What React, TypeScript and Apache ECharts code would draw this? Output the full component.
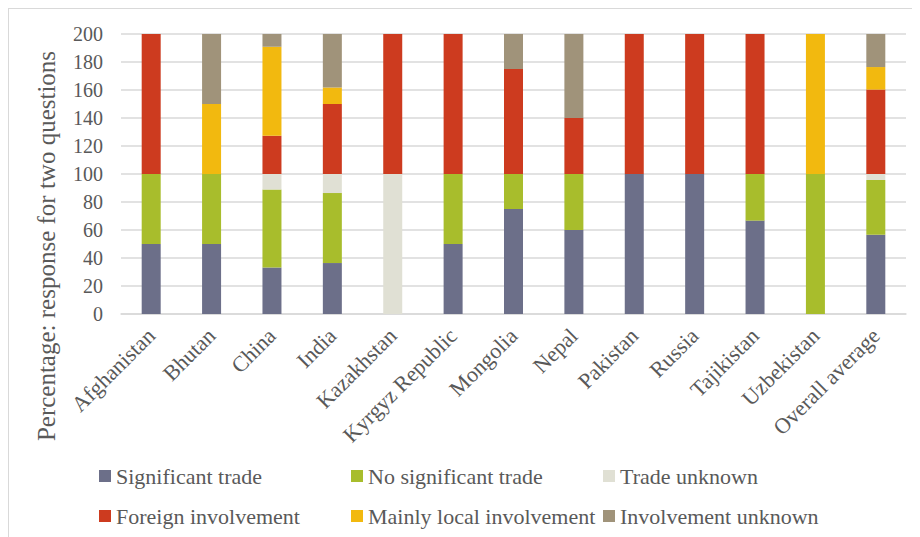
import React, { useEffect, useRef } from "react";
import * as echarts from "echarts";

const categories = [
  "Afghanistan",
  "Bhutan",
  "China",
  "India",
  "Kazakhstan",
  "Kyrgyz Republic",
  "Mongolia",
  "Nepal",
  "Pakistan",
  "Russia",
  "Tajikistan",
  "Uzbekistan",
  "Overall average",
];
const yTicks = { min: 0, max: 200, interval: 20 };

const significantTrade = [50, 50, 33.3, 36.4, 0, 50, 75, 60, 100, 100, 66.7, 0, 56.6];
const noSignificantTrade = [50, 50, 55.6, 50, 0, 50, 25, 40, 0, 0, 33.3, 100, 39.1];
const tradeUnknown = [0, 0, 11.1, 13.6, 100, 0, 0, 0, 0, 0, 0, 0, 4.3];
const foreignInvolvement = [100, 0, 27.3, 50, 100, 100, 75, 40, 100, 100, 100, 0, 60.3];
const mainlyLocalInvolvement = [0, 50, 63.6, 11.8, 0, 0, 0, 0, 0, 0, 0, 100, 16.1];
const involvementUnknown = [0, 50, 9.1, 38.2, 0, 0, 25, 60, 0, 0, 0, 0, 23.6];

const seriesNames = [
  "Significant trade",
  "No significant trade",
  "Trade unknown",
  "Foreign involvement",
  "Mainly local involvement",
  "Involvement unknown",
];
const seriesData = [
  significantTrade,
  noSignificantTrade,
  tradeUnknown,
  foreignInvolvement,
  mainlyLocalInvolvement,
  involvementUnknown,
];
const colors = ["#6c6f89", "#a8bd2c", "#e0e0d4", "#cd3b1f", "#f2b90f", "#a0937a"];

const FONT = "Liberation Serif";
const TEXT = "#595959";

export default function App() {
  const ref = useRef<HTMLDivElement>(null);
  useEffect(() => {
    if (!ref.current) return;
    const chart = echarts.init(ref.current, undefined, { renderer: "svg" });
    const legendCols = [90, 342, 594];
    const legendRows = [456, 496];
    const legends = seriesNames.map((name, i) => ({
      show: true,
      data: [name],
      left: legendCols[i % 3],
      top: legendRows[Math.floor(i / 3)],
      itemWidth: 12,
      itemHeight: 12,
      icon: "rect",
      padding: 0,
      textStyle: { fontFamily: FONT, fontSize: 22, color: TEXT },
      selectedMode: false,
    }));
    chart.setOption({
      animation: false,
      textStyle: { fontFamily: FONT },
      color: colors,
      legend: legends,
      grid: { left: 112, right: 21, top: 25, height: 280 },
      xAxis: {
        type: "category",
        data: categories,
        axisLine: { lineStyle: { color: "#d9d9d9", width: 1.5 } },
        axisTick: { show: false },
        axisLabel: {
          rotate: 45,
          interval: 0,
          margin: 18,
          fontFamily: FONT,
          fontSize: 22,
          color: TEXT,
        },
      },
      yAxis: {
        type: "value",
        min: yTicks.min,
        max: yTicks.max,
        interval: yTicks.interval,
        axisLine: { show: false },
        axisTick: { show: false },
        splitLine: { lineStyle: { color: "#d9d9d9", width: 1.5 } },
        axisLabel: { margin: 18, fontFamily: FONT, fontSize: 20, color: TEXT },
      },
      graphic: [
        {
          type: "text",
          x: 37,
          y: 237,
          rotation: Math.PI / 2,
          style: {
            text: "Percentage: response for two questions",
            fontFamily: FONT,
            fontSize: 25,
            fill: TEXT,
            align: "center",
            verticalAlign: "middle",
          },
        },
      ],
      series: seriesNames.map((name, i) => ({
        name,
        type: "bar",
        stack: "total",
        barWidth: 19,
        data: seriesData[i],
        itemStyle: { color: colors[i] },
      })),
    });
    return () => chart.dispose();
  }, []);
  return (
    <div
      ref={ref}
      style={{
        width: 920,
        height: 537,
        border: "1px solid #d9d9d9",
        boxSizing: "border-box",
      }}
    />
  );
}
